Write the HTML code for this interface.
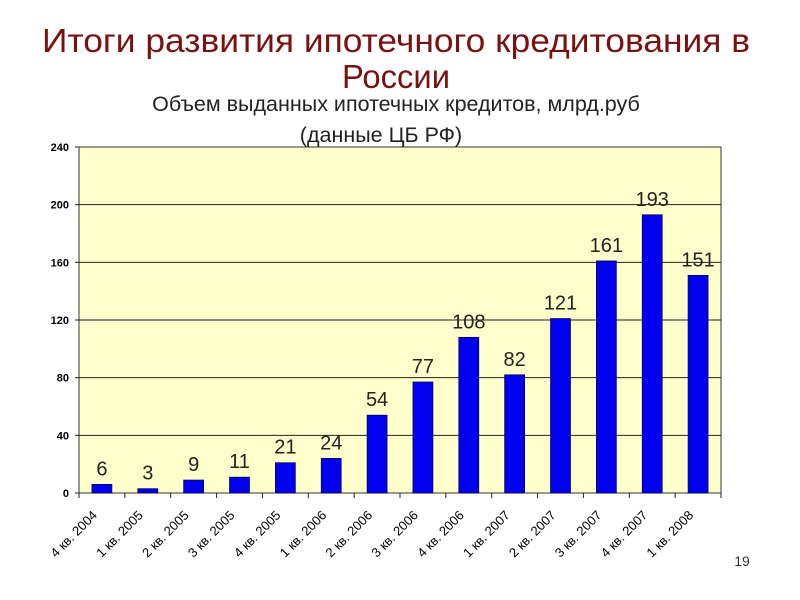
<!DOCTYPE html>
<html><head><meta charset="utf-8"><style>
body{margin:0;background:#fff;}
svg{display:block;font-family:"Liberation Sans","DejaVu Sans",sans-serif;}
</style></head><body>
<svg id="c" width="800" height="600">
<text x="396" y="52" text-anchor="middle" font-size="33" textLength="708" lengthAdjust="spacingAndGlyphs" fill="#7b1010">Итоги развития ипотечного кредитования в</text>
<text x="396" y="88" text-anchor="middle" font-size="33" textLength="108" lengthAdjust="spacingAndGlyphs" fill="#7b1010">России</text>
<text x="396" y="111" text-anchor="middle" font-size="21.5" fill="#222">Объем выданных ипотечных кредитов, млрд.руб</text>
<text x="381" y="142" text-anchor="middle" font-size="21.5" fill="#222">(данные ЦБ РФ)</text>
<rect x="79" y="147" width="642" height="346" fill="#ffffcc" stroke="#333" stroke-width="1"/>
<g id="g"></g>
<text x="742" y="566" text-anchor="middle" font-size="14" fill="#333">19</text>
</svg>
<script>
const categories=["4 кв. 2004","1 кв. 2005","2 кв. 2005","3 кв. 2005","4 кв. 2005","1 кв. 2006","2 кв. 2006","3 кв. 2006","4 кв. 2006","1 кв. 2007","2 кв. 2007","3 кв. 2007","4 кв. 2007","1 кв. 2008"];
const values=[6,3,9,11,21,24,54,77,108,82,121,161,193,151];
const yTicks=[0,40,80,120,160,200,240];
const NS="http://www.w3.org/2000/svg";
const g=document.getElementById('g');
const L=79,R=721,T=147,B=493,YMAX=240;
const y=v=>B-(v/YMAX)*(B-T);
const step=(R-L)/categories.length;
const xc=i=>L+step*(i+0.5);
function mk(t,a){const e=document.createElementNS(NS,t);for(const k in a)e.setAttribute(k,a[k]);g.appendChild(e);return e;}
yTicks.forEach(v=>{
  if(v>0&&v<YMAX){const l=mk('line',{x1:L,x2:R,y1:y(v),y2:y(v),stroke:'#222','stroke-width':1});
  
  }
  const tk=mk('line',{x1:L-4,x2:L,y1:y(v),y2:y(v),stroke:'#222'});
  
  
  const t=mk('text',{x:L-10,y:y(v)+4,'text-anchor':'end','font-size':11,'font-weight':'bold',fill:'#000'});
  t.textContent=v;
  
  
});
for(let i=0;i<=categories.length;i++){
  const tk=mk('line',{x1:L+step*i,x2:L+step*i,y1:B,y2:B+5,stroke:'#222'});
  
  
}
categories.forEach((c,i)=>{
  const v=values[i],bw=20;
  const r=mk('rect',{x:xc(i)-bw/2,y:y(v),width:bw,height:B-y(v),fill:'#0000ee',stroke:'#000044','stroke-width':0.7});
  
  
  const t=mk('text',{x:xc(i),y:y(v)-9,'text-anchor':'middle','font-size':20,fill:'#222'});
  t.textContent=v;
  
  
  const lx=xc(i)-4,ly=516;
  const xl=mk('text',{x:lx,y:ly,'text-anchor':'end','font-size':13,fill:'#000',transform:`rotate(-45 ${lx} ${ly})`});
  xl.textContent=c;
  
  
});
</script>
</body></html>
